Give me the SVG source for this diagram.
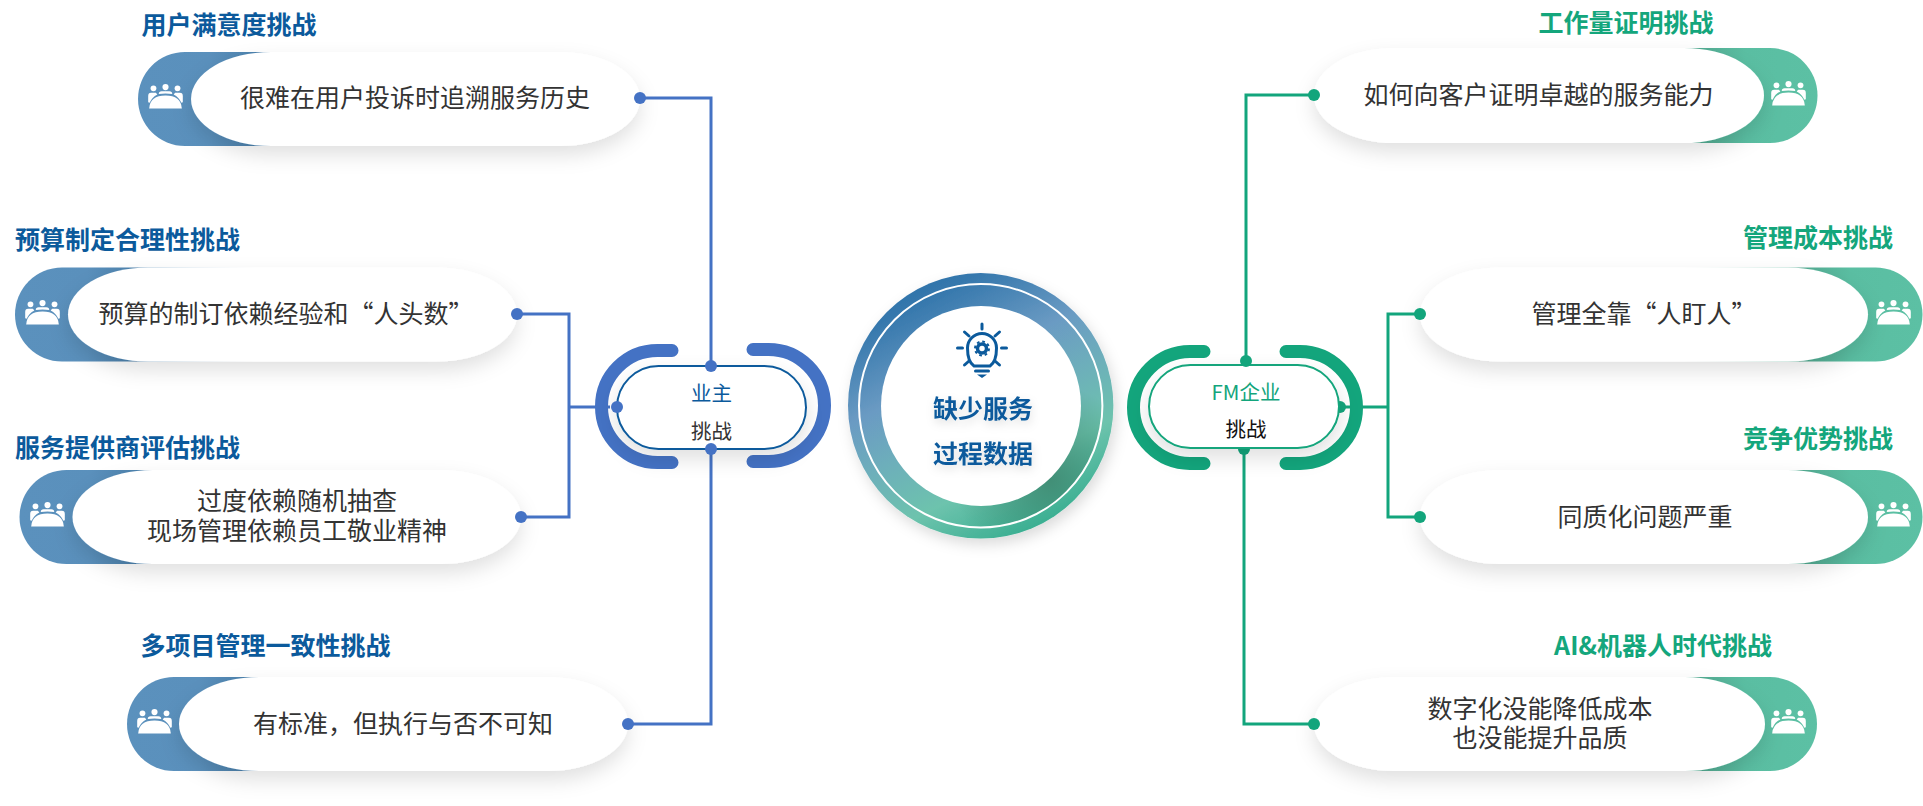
<svg xmlns="http://www.w3.org/2000/svg" width="1923" height="806" viewBox="0 0 1923 806">
<style>
text{font-family:"Noto Sans CJK SC","Noto Sans",sans-serif;text-anchor:middle}
.t{font-size:25px;fill:#333;}
.ht{font-size:25px;font-weight:700;fill:#0b5a9c}
.hg{font-size:25px;font-weight:700;fill:#14a67c}
.c{font-size:25px;font-weight:700;fill:#0b5a9c}
.cap{font-size:20.5px}
.lb{fill:none;stroke:#4472c4;stroke-width:3}
.lg{fill:none;stroke:#13a57c;stroke-width:3}
.db{fill:#4472c4}.dg{fill:#13a57c}
.brb{fill:none;stroke:#4472c4;stroke-width:13;stroke-linecap:round}
.brg{fill:none;stroke:#13a57c;stroke-width:13;stroke-linecap:round}
.w{fill:#fff;filter:url(#sh)}
.ic{fill:#fff}
.bs{fill:none;stroke:#0b5a9c;stroke-width:3;stroke-linecap:round;stroke-linejoin:round}
.ob{fill:url(#pb)}.og{fill:url(#pg)}
</style>
<defs>
<filter id="sh" x="-15%" y="-40%" width="130%" height="190%"><feDropShadow dx="0" dy="9" stdDeviation="10" flood-color="#000" flood-opacity=".12"/></filter>
<filter id="sc" x="-15%" y="-15%" width="130%" height="130%"><feDropShadow dx="3" dy="6" stdDeviation="7" flood-color="#000" flood-opacity=".14"/></filter>
<filter id="ts" x="-20%" y="-30%" width="140%" height="190%"><feDropShadow dx="1" dy="4" stdDeviation="5" flood-color="#000" flood-opacity=".13"/></filter>
<linearGradient id="pb" x1="0" y1="0" x2="1" y2="0"><stop offset="0" stop-color="#5b91bd"/><stop offset=".3" stop-color="#5a90bc"/><stop offset=".5" stop-color="#4d82ad"/><stop offset=".6" stop-color="#6a9bc0"/><stop offset="1" stop-color="#cfdde9" stop-opacity="0"/></linearGradient>
<linearGradient id="pg" x1="1" y1="0" x2="0" y2="0"><stop offset="0" stop-color="#5cc0a4"/><stop offset=".3" stop-color="#5abea2"/><stop offset=".5" stop-color="#54ab92"/><stop offset=".6" stop-color="#74c3ad"/><stop offset="1" stop-color="#d5ebe4" stop-opacity="0"/></linearGradient>
<linearGradient id="rg" x1=".2" y1="0" x2=".7" y2="1"><stop offset="0" stop-color="#2a70a8"/><stop offset=".12" stop-color="#3678ad"/><stop offset=".38" stop-color="#6b9bc3"/><stop offset=".55" stop-color="#6daebb"/><stop offset=".76" stop-color="#6dc3ad"/><stop offset="1" stop-color="#34ac8e"/></linearGradient>
<radialGradient id="rd" gradientUnits="userSpaceOnUse" cx="1050" cy="480" r="95"><stop offset="0" stop-color="#3f8a72" stop-opacity=".9"/><stop offset="1" stop-color="#3f8a72" stop-opacity="0"/></radialGradient>
<symbol id="pp" viewBox="0 0 36 26">
<circle cx="5.500" cy="4.500" r="3"/><circle cx="18" cy="3.200" r="3.200"/><circle cx="30.500" cy="4.500" r="3"/>
<path d="M0 19V12.500Q0 9.200 3 9.200H8L9.500 10.800Q4 13.500 1.500 19.500Z"/><path d="M36 19V12.500Q36 9.200 33 9.200H28L26.500 10.800Q32 13.500 34.500 19.500Z"/>
<path d="M11 10.500Q11 7.500 14 7.500H22Q25 7.500 25 10.500Q21.500 9.800 18 9.800Q14.500 9.800 11 10.500Z"/>
<path d="M1 25.500Q2 12 18 12Q34 12 35 25.500Z"/>
</symbol>
</defs>

<g id="left-1">
<path class="ob" d="M185 52H378V146H185A47 47 0 0 1 185 52Z"/>
<path class="w" d="M271 52H560A80 47 0 0 1 560 146H271A80 47 0 0 1 271 52Z"/>
<use href="#pp" class="ic" x="148" y="84" width="35" height="25"/>
<text class="ht" x="229" y="34">用户满意度挑战</text>
<text class="t" x="415" y="107">很难在用户投诉时追溯服务历史</text>
</g>
<g id="left-2">
<path class="ob" d="M62 267.500H255V361.500H62A47 47 0 0 1 62 267.500Z"/>
<path class="w" d="M148 267.500H437A80 47 0 0 1 437 361.500H148A80 47 0 0 1 148 267.500Z"/>
<use href="#pp" class="ic" x="25" y="300" width="35" height="25"/>
<text class="ht" x="127.500" y="249">预算制定合理性挑战</text>
<text class="t" x="286" y="323">预算的制订依赖经验和“人头数”</text>
</g>
<g id="left-3">
<path class="ob" d="M66.500 470H259.500V564H66.500A47 47 0 0 1 66.500 470Z"/>
<path class="w" d="M152.500 470H441A80 47 0 0 1 441 564H152.500A80 47 0 0 1 152.500 470Z"/>
<use href="#pp" class="ic" x="30" y="502" width="35" height="25"/>
<text class="ht" x="127.500" y="456.500">服务提供商评估挑战</text>
<text class="t" x="297" y="510">过度依赖随机抽查</text>
<text class="t" x="297" y="539.500">现场管理依赖员工敬业精神</text>
</g>
<g id="left-4">
<path class="ob" d="M174 677H367V771H174A47 47 0 0 1 174 677Z"/>
<path class="w" d="M259 677H548A80 47 0 0 1 548 771H259A80 47 0 0 1 259 677Z"/>
<use href="#pp" class="ic" x="137" y="709" width="35" height="25"/>
<text class="ht" x="265.500" y="655">多项目管理一致性挑战</text>
<text class="t" x="403" y="733">有标准，但执行与否不可知</text>
</g>

<g id="right-1">
<path class="og" d="M1770 48H1577V143H1770A47.500 47.500 0 0 0 1770 48Z"/>
<path class="w" d="M1394 48H1684A80 47.500 0 0 1 1684 143H1394A80 47.500 0 0 1 1394 48Z"/>
<use href="#pp" class="ic" x="1771" y="81" width="35" height="25"/>
<text class="hg" x="1626" y="32">工作量证明挑战</text>
<text class="t" x="1538.500" y="104">如何向客户证明卓越的服务能力</text>
</g>
<g id="right-2">
<path class="og" d="M1875.500 267.500H1682.500V361.500H1875.500A47 47 0 0 0 1875.500 267.500Z"/>
<path class="w" d="M1500 267.500H1788A80 47 0 0 1 1788 361.500H1500A80 47 0 0 1 1500 267.500Z"/>
<use href="#pp" class="ic" x="1876" y="300" width="35" height="25"/>
<text class="hg" x="1818" y="247">管理成本挑战</text>
<text class="t" x="1644" y="323">管理全靠“人盯人”</text>
</g>
<g id="right-3">
<path class="og" d="M1875.500 470H1682.500V564H1875.500A47 47 0 0 0 1875.500 470Z"/>
<path class="w" d="M1500 470H1788A80 47 0 0 1 1788 564H1500A80 47 0 0 1 1500 470Z"/>
<use href="#pp" class="ic" x="1876" y="502" width="35" height="25"/>
<text class="hg" x="1818" y="448">竞争优势挑战</text>
<text class="t" x="1645" y="526">同质化问题严重</text>
</g>
<g id="right-4">
<path class="og" d="M1770 677H1577V771H1770A47 47 0 0 0 1770 677Z"/>
<path class="w" d="M1394 677H1685A80 47 0 0 1 1685 771H1394A80 47 0 0 1 1394 677Z"/>
<use href="#pp" class="ic" x="1771" y="709" width="35" height="25"/>
<text class="hg" x="1663" y="655">AI&amp;机器人时代挑战</text>
<text class="t" x="1540" y="718">数字化没能降低成本</text>
<text class="t" x="1540" y="747">也没能提升品质</text>
</g>

<g id="connectors">
<path class="lb" d="M640 98H711V449M711 449V724H628"/>
<path class="lb" d="M517 314H569V517H521M569 407H610"/>
<circle class="db" cx="640" cy="98" r="6"/><circle class="db" cx="517" cy="314" r="6"/><circle class="db" cx="521" cy="517" r="6"/><circle class="db" cx="628" cy="724" r="6"/>
<path class="lg" d="M1314 95H1246V361"/>
<path class="lg" d="M1244 449V724H1314"/>
<path class="lg" d="M1420 314H1388V517H1420M1340 407H1388"/>
<circle class="dg" cx="1314" cy="95" r="6"/><circle class="dg" cx="1420" cy="314" r="6"/><circle class="dg" cx="1420" cy="517" r="6"/><circle class="dg" cx="1314" cy="724" r="6"/>
</g>

<g id="owner">
<path class="brb" d="M672 350.500H657.500A56 56 0 0 0 601.500 406.500A56 56 0 0 0 657.500 462.500H672"/>
<path class="brb" d="M753 349.500H768.500A56 56 0 0 1 824.500 405.500A56 56 0 0 1 768.500 461.500H753"/>
<rect x="617" y="366" width="189" height="83" rx="41.500" fill="#fff" stroke="#0b5a9c" stroke-width="2" filter="url(#sh)"/>
<circle class="db" cx="711" cy="366" r="6"/><circle class="db" cx="711" cy="449" r="6"/><circle class="db" cx="617" cy="407" r="6"/>
<text class="cap" x="711.500" y="400.500" fill="#0b5a9c">业主</text>
<text class="cap" x="711.500" y="438.500" fill="#333">挑战</text>
</g>
<g id="fm">
<path class="brg" d="M1204 351.500H1190A57 56 0 0 0 1133.500 407.500A57 56 0 0 0 1190 463.500H1204"/>
<path class="brg" d="M1286 351.500H1300A57 56 0 0 1 1356.500 407.500A57 56 0 0 1 1300 463.500H1286"/>
<circle class="dg" cx="1244" cy="449" r="6"/><circle class="dg" cx="1340" cy="407" r="6"/>
<rect x="1149" y="365" width="190" height="83" rx="41.500" fill="#fff" stroke="#13a57c" stroke-width="2" filter="url(#sh)"/>
<circle class="dg" cx="1246" cy="361" r="6"/>
<text class="cap" x="1246" y="400" fill="#13a57c">FM企业</text>
<text class="cap" x="1246" y="437" fill="#111">挑战</text>
</g>

<g id="center">
<circle cx="980.700" cy="405.800" r="132.700" fill="url(#rg)" filter="url(#sc)"/>
<circle cx="980.700" cy="405.800" r="121.700" fill="url(#rd)"/>
<circle cx="980.700" cy="405.800" r="121.700" fill="none" stroke="#fff" stroke-width="2"/>
<circle cx="981" cy="406" r="100" fill="#fff"/>
<g id="bulb">
<path class="bs" d="M974 366C968 362 967.500 354 967.500 348A14.500 14.500 0 0 1 996.500 348C996.500 354 996 362 990 366Z"/>
<path class="bs" d="M975.500 371H988.500M982 324V329M957.500 348H962.500M1001.500 348H1006.500M964.500 332L969 336M999.500 332L995 336M964.500 365L969 361M999.500 365L995 361" stroke-width="2.500"/>
<path d="M977 374.500H987L982 378Z" fill="#0b5a9c"/>
<circle cx="982" cy="348.500" r="4.500" fill="none" stroke="#0b5a9c" stroke-width="3.500"/>
<circle cx="982" cy="348.500" r="7" fill="none" stroke="#0b5a9c" stroke-width="2" stroke-dasharray="2.700 2.800"/>
</g>
<text class="c" x="983" y="418" filter="url(#ts)">缺少服务</text>
<text class="c" x="983" y="463" filter="url(#ts)">过程数据</text>
</g>
</svg>
